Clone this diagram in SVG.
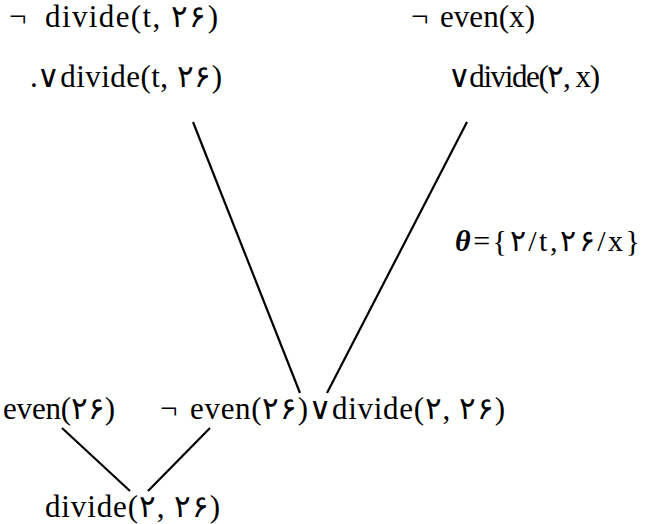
<svg xmlns="http://www.w3.org/2000/svg" width="648" height="524" viewBox="0 0 648 524">
<style>
  text { font-family: "Liberation Serif", "DejaVu Serif", "Noto Sans", serif; font-size: 31px; fill: #000; }
  .lab { font-size: 30px; }
  .th { font-weight: bold; font-style: italic; }
  line { stroke: #000; stroke-width: 2.2; }
</style>
<rect width="648" height="524" fill="#fff"/>
<g id="n1"><text x="9" y="27">¬</text><text x="45" y="27" textLength="173" lengthAdjust="spacing">divide(t, ۲۶)</text></g>
<g id="n2"><text x="411" y="27">¬</text><text x="440" y="27" textLength="95" lengthAdjust="spacing">even(x)</text></g>
<g id="n3"><text x="30" y="87">.</text><text x="37" y="87" textLength="185" lengthAdjust="spacing">∨divide(t, ۲۶)</text></g>
<g id="n4"><text x="448" y="87" textLength="152" lengthAdjust="spacing">∨divide(۲, x)</text></g>
<g id="n5"><text x="3" y="419" textLength="112" lengthAdjust="spacing">even(۲۶)</text></g>
<g id="n6"><text x="160" y="419">¬</text><text x="190" y="419" textLength="315" lengthAdjust="spacing">even(۲۶)∨divide(۲, ۲۶)</text></g>
<g id="n7"><text x="45" y="517" textLength="175" lengthAdjust="spacing">divide(۲, ۲۶)</text></g>
<g id="connectors">
  <line x1="193" y1="122" x2="300" y2="393"/>
  <line x1="467" y1="122" x2="327" y2="393"/>
  <line x1="62" y1="428" x2="130" y2="491"/>
  <line x1="210" y1="428" x2="148" y2="491"/>
  <text class="lab" x="455" y="251" textLength="185" lengthAdjust="spacing"><tspan class="th">θ</tspan>={۲/t,۲۶/x}</text>
</g>
</svg>
